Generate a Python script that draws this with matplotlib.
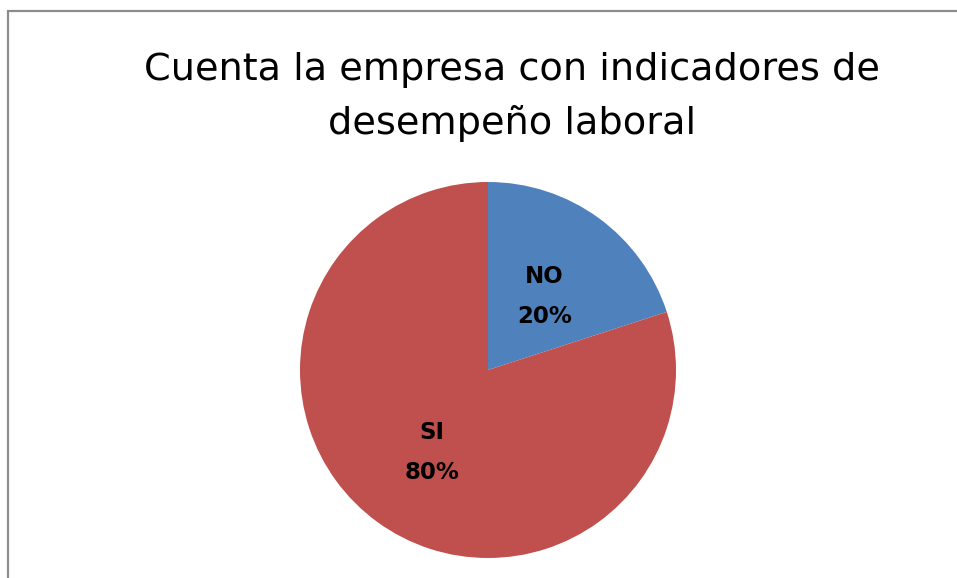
import numpy as np
import matplotlib
matplotlib.use('Agg')
import matplotlib.pyplot as plt
from matplotlib.patches import Rectangle

# data
categorias = ['NO', 'SI']
valores = [20, 80]
colores = ['#4F81BD', '#C0504D']
titulo = 'Cuenta la empresa con indicadores de\ndesempeño laboral'

W, H = 957, 578
fig = plt.figure(figsize=(W / 100, H / 100), dpi=100)

# chart border (runs off the right and bottom edge)
fig.patches.append(Rectangle((8 / W, -0.1), 1.2, 1 - 11 / H + 0.1, transform=fig.transFigure,
                             fill=False, edgecolor='#8c8c8c', linewidth=1.6))

fig.text(512 / W, 1 - 97 / H, titulo, ha='center', va='center', fontsize=27.5,
         family='DejaVu Sans', linespacing=1.6)

cx, cy, r = 488, 370, 188
ax = fig.add_axes([(cx - r) / W, (H - cy - r) / H, 2 * r / W, 2 * r / H])
wedges, _ = ax.pie(valores, colors=colores, startangle=90, counterclock=False,
                   wedgeprops=dict(linewidth=0))
ax.set_xlim(-1, 1)
ax.set_ylim(-1, 1)

total = sum(valores)
for w, cat, v in zip(wedges, categorias, valores):
    ang = np.deg2rad((w.theta1 + w.theta2) / 2)
    d = 0.51
    ax.text(d * np.cos(ang), d * np.sin(ang) - 0.024, f'{cat}\n{v / total:.0%}',
            ha='center', va='center', fontsize=16.5, fontweight='bold',
            family='DejaVu Sans', linespacing=1.95)

fig.savefig('out.png', dpi=100)
